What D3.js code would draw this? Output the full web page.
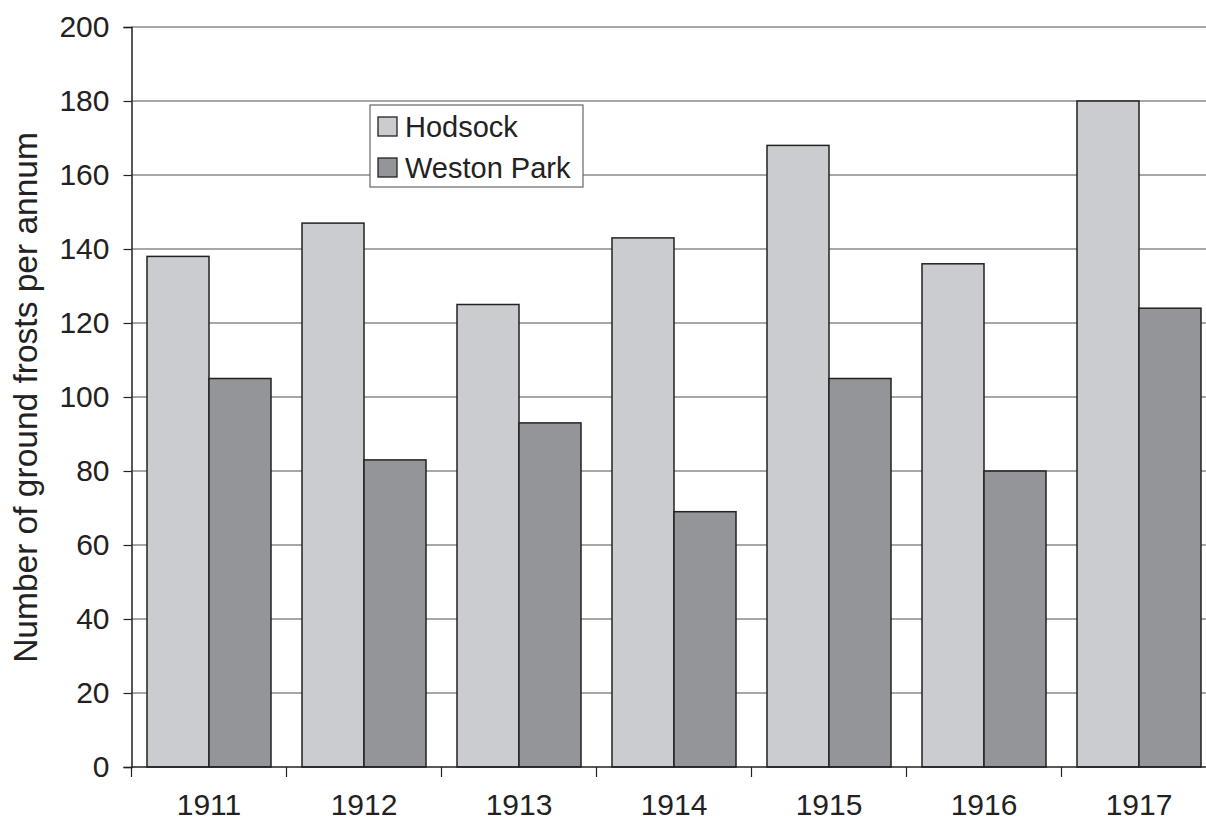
<!DOCTYPE html>
<html>
<head>
<meta charset="utf-8">
<script src="https://cdn.jsdelivr.net/npm/d3@7"></script>
<style>
  html, body { margin: 0; padding: 0; background: #fff; }
  svg { display: block; font-family: "Liberation Sans", Arial, sans-serif; }
</style>
</head>
<body>
<svg id="chart" width="1206" height="821"></svg>
<script>
// Ground frosts per year at two stations
const years = ["1911", "1912", "1913", "1914", "1915", "1916", "1917"];
const hodsock = [138, 147, 125, 143, 168, 136, 180];
const westonPark = [105, 83, 93, 69, 105, 80, 124];
const seriesNames = ["Hodsock", "Weston Park"];
const seriesColors = ["#cbcccf", "#949599"];
const yTicks = [0, 20, 40, 60, 80, 100, 120, 140, 160, 180, 200];

const svg = d3.select("#chart");
const plotLeft = 131.5, plotTop = 27, plotBottom = 767;
const bandW = 155;

const x = d3.scaleBand().domain(years).range([plotLeft, plotLeft + bandW * years.length]).paddingInner(0).paddingOuter(0);
const x1 = d3.scaleBand().domain(seriesNames).range([15.5, bandW - 15.5]);
const y = d3.scaleLinear().domain([0, 200]).range([plotBottom, plotTop]);

// Horizontal gridlines
svg.append("g")
  .selectAll("line")
  .data(yTicks.filter(d => d > 0))
  .join("line")
  .attr("x1", plotLeft).attr("x2", 1206)
  .attr("y1", d => y(d)).attr("y2", d => y(d))
  .attr("stroke", "#8a8a8a").attr("stroke-width", 1.5);

// Bars
const rows = years.map((yr, i) => ({ year: yr, values: [hodsock[i], westonPark[i]] }));
const groups = svg.append("g").selectAll("g")
  .data(rows).join("g")
  .attr("transform", d => `translate(${x(d.year)},0)`);
groups.selectAll("rect")
  .data(d => d.values.map((v, j) => ({ name: seriesNames[j], value: v, color: seriesColors[j] })))
  .join("rect")
  .attr("x", d => x1(d.name))
  .attr("width", x1.bandwidth())
  .attr("y", d => y(d.value))
  .attr("height", d => plotBottom - y(d.value))
  .attr("fill", d => d.color)
  .attr("stroke", "#222")
  .attr("stroke-width", 1.5);

// Y axis
const yAxis = svg.append("g")
  .attr("transform", `translate(${plotLeft},0)`)
  .call(d3.axisLeft(y).tickValues(yTicks).tickSize(8).tickPadding(14));
yAxis.select(".domain").attr("stroke", "#222").attr("stroke-width", 1.5);
yAxis.selectAll(".tick line").attr("stroke", "#222").attr("stroke-width", 1.2);
yAxis.selectAll(".tick text")
  .attr("fill", "#222")
  .style("font-size", "30px")
  .style("font-family", "'Liberation Sans', Arial, sans-serif");

// X axis with ticks on category boundaries
const xAxisG = svg.append("g").attr("transform", `translate(0,${plotBottom})`);
xAxisG.append("line")
  .attr("x1", plotLeft).attr("x2", 1206).attr("y1", 0).attr("y2", 0)
  .attr("stroke", "#222").attr("stroke-width", 1.5);
xAxisG.selectAll("line.sep")
  .data(years)
  .join("line").attr("class", "sep")
  .attr("x1", d => x(d)).attr("x2", d => x(d))
  .attr("y1", 0).attr("y2", 10)
  .attr("stroke", "#222").attr("stroke-width", 1.2);
xAxisG.selectAll("text")
  .data(years)
  .join("text")
  .attr("x", d => x(d) + x.bandwidth() / 2)
  .attr("y", 47.5)
  .attr("text-anchor", "middle")
  .attr("fill", "#222")
  .style("font-size", "30px")
  .text(d => d);

// Y axis title
svg.append("text")
  .attr("transform", "translate(37,397.5) rotate(-90)")
  .attr("text-anchor", "middle")
  .attr("fill", "#222")
  .style("font-size", "33.5px")
  .text("Number of ground frosts per annum");

// Legend
const legend = svg.append("g");
legend.append("rect")
  .attr("x", 370).attr("y", 105).attr("width", 213).attr("height", 82)
  .attr("fill", "#fff").attr("stroke", "#666").attr("stroke-width", 1.2);
seriesNames.forEach((name, i) => {
  const cy = 127 + i * 41;
  legend.append("rect")
    .attr("x", 378).attr("y", cy - 10).attr("width", 19).attr("height", 19)
    .attr("fill", seriesColors[i]).attr("stroke", "#222").attr("stroke-width", 1.3);
  legend.append("text")
    .attr("x", 405).attr("y", cy + 10)
    .attr("fill", "#222")
    .style("font-size", "29px")
    .text(name);
});
</script>
</body>
</html>
